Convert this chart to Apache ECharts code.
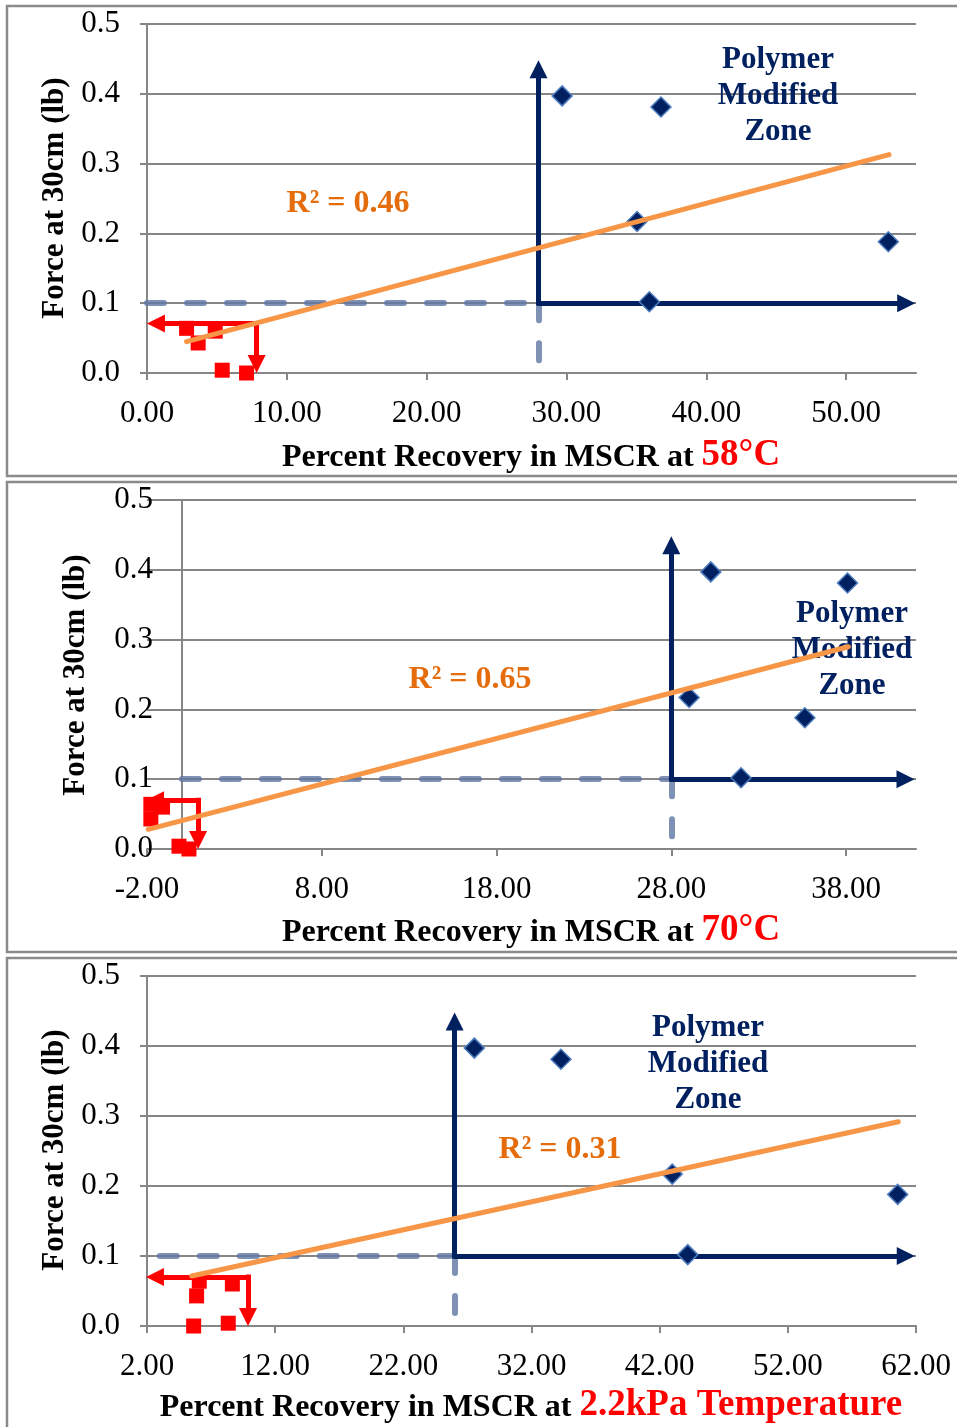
<!DOCTYPE html>
<html>
<head>
<meta charset="utf-8">
<script src="https://cdn.jsdelivr.net/npm/echarts@6/dist/echarts.min.js"></script>
<style>
  html, body { margin: 0; padding: 0; background: #ffffff; }
  #chart { width: 957px; height: 1427px; }
</style>
</head>
<body>
<div id="chart"></div>
<script>
// Force at 30 cm vs. MSCR percent recovery for three test conditions.
const panelConditions = ['58°C', '70°C', '2.2kPa Temperature'];
const xMins = [0, -2, 2];
const xMaxs = [55, 42, 62];
const xInterval = 10;
const yMin = 0;
const yMax = 0.5;
const yInterval = 0.1;

// Polymer modified binders: force (lb) and percent recovery per condition
const pmForce = [0.397, 0.381, 0.217, 0.102, 0.188];
const pmRecovery = [
  [29.69, 36.76, 35.05, 35.93, 53.02],
  [30.26, 38.08, 29.02, 31.99, 35.64],
  [27.54, 34.30, 42.98, 44.19, 60.57]
];

// Unmodified binders
const neatForce = [0.064, 0.043, 0.060, 0.004, 0.0];
const neatRecovery = [
  [2.83, 3.66, 4.88, 5.38, 7.12],
  [-1.78, -1.78, -1.11, -0.17, 0.40],
  [6.08, 5.87, 8.66, 8.34, 5.64]
];

// Linear trendlines over all binders
const trendSlope = [0.005334, 0.00653, 0.0040];
const trendIntercept = [0.0299, 0.0408, 0.0494];
const trendFrom = [2.83, -1.93, 5.49];
const trendTo = [53.07, 38.13, 60.62];
const trendR2 = ['0.46', '0.65', '0.31'];

// Zone boundaries
const zoneRecovery = [28, 28, 26];
const zoneForce = 0.1;
const zoneArrowTop = 0.435;
const zoneArrowRight = [54.3, 41.4, 61.2];
const dashStart = [0, 0, 3];
const neatCorner = [[7.84, 0.071], [0.92, 0.070], [9.88, 0.070]];
const neatArrowLeft = [0.64, -1.54, 2.62];
const neatArrowBottom = 0.013;

// Page layout (pixels)
const gridTops = [24, 500, 976];
const gridHeights = [349, 349, 350];
const frameTops = [6, 482, 958];
const frameHeights = [470, 470, 480];
const xTitleY = [455, 930, 1405];
const yTitlePos = [[55, 198], [76, 675], [55, 1150]];
const yLabelMargin = [27, -6, 27];
const zoneTextPos = [[778, 96], [852, 650], [708, 1064]];
const r2TextPos = [[348, 204], [470, 680], [560, 1150]];

const SERIF = "'Liberation Serif', 'Times New Roman', serif";
const AXIS_GRAY = '#868686';
const NAVY = '#002060';

const grids = [], xAxes = [], yAxes = [], series = [], graphics = [];

for (let i = 0; i < 3; i++) {
  grids.push({ left: 147, width: 769, top: gridTops[i], height: gridHeights[i], containLabel: false });

  xAxes.push({
    gridIndex: i, type: 'value', min: xMins[i], max: xMaxs[i], interval: xInterval,
    axisLine: { show: true, onZero: true, lineStyle: { color: AXIS_GRAY, width: 2 } },
    axisTick: { show: true, length: 7, lineStyle: { color: AXIS_GRAY, width: 2 } },
    axisLabel: {
      fontFamily: SERIF, fontSize: 31, color: '#000', margin: 25,
      showMaxLabel: i === 2,
      formatter: v => v.toFixed(2)
    },
    splitLine: { show: false }
  });

  yAxes.push({
    gridIndex: i, type: 'value', min: yMin, max: yMax, interval: yInterval,
    axisLine: { show: true, onZero: true, lineStyle: { color: AXIS_GRAY, width: 2 } },
    axisTick: { show: i !== 1, length: 7, lineStyle: { color: AXIS_GRAY, width: 2 } },
    axisLabel: {
      fontFamily: SERIF, fontSize: 31, color: '#000', margin: yLabelMargin[i],
      formatter: v => v.toFixed(1)
    },
    splitLine: { show: true, lineStyle: { color: AXIS_GRAY, width: 2 } }
  });

  const ax = { xAxisIndex: i, yAxisIndex: i, coordinateSystem: 'cartesian2d' };

  // dashed 0.1 lb / recovery threshold guides
  series.push(Object.assign({
    type: 'lines', silent: true, animation: false, symbol: 'none',
    lineStyle: { color: '#5f76a3', width: 6, type: [17, 23], cap: 'round', opacity: 0.8 },
    data: [
      { coords: [[dashStart[i], zoneForce], [zoneRecovery[i], zoneForce]] },
      { coords: [[zoneRecovery[i], zoneForce], [zoneRecovery[i], yMin]] }
    ]
  }, ax));

  // polymer modified zone arrows
  series.push(Object.assign({
    type: 'lines', silent: true, animation: false,
    symbol: ['none', 'triangle'], symbolSize: [17, 18],
    lineStyle: { color: NAVY, width: 5, opacity: 1, cap: 'round' },
    data: [
      { coords: [[zoneRecovery[i], zoneForce], [zoneRecovery[i], zoneArrowTop]] },
      { coords: [[zoneRecovery[i], zoneForce], [zoneArrowRight[i], zoneForce]] }
    ]
  }, ax));

  // polymer modified binders
  series.push({
    type: 'scatter', xAxisIndex: i, yAxisIndex: i, animation: false,
    symbol: 'diamond', symbolSize: 20,
    itemStyle: { color: NAVY, borderColor: '#4f7ec0', borderWidth: 1.5, opacity: 1 },
    data: pmRecovery[i].map((x, k) => [x, pmForce[k]])
  });

  // unmodified binders
  series.push({
    type: 'scatter', xAxisIndex: i, yAxisIndex: i, animation: false,
    symbol: 'rect', symbolSize: 15,
    itemStyle: { color: '#ff0000', opacity: 1 },
    data: neatRecovery[i].map((x, k) => [x, neatForce[k]])
  });

  // unmodified zone arrows
  series.push(Object.assign({
    type: 'lines', silent: true, animation: false,
    symbol: ['none', 'triangle'], symbolSize: [17, 18],
    lineStyle: { color: '#ff0000', width: 5, opacity: 1, cap: 'square' },
    data: [
      { coords: [neatCorner[i], [neatArrowLeft[i], neatCorner[i][1]]] },
      { coords: [neatCorner[i], [neatCorner[i][0], neatArrowBottom]] }
    ]
  }, ax));

  // linear trendline
  series.push({
    type: 'line', xAxisIndex: i, yAxisIndex: i, animation: false, silent: true,
    showSymbol: false, symbol: 'none',
    lineStyle: { color: '#f79646', width: 5, cap: 'round' },
    data: [trendFrom[i], trendTo[i]].map(x => [x, trendIntercept[i] + trendSlope[i] * x])
  });

  // panel frame
  graphics.push({
    type: 'rect', z: 0, silent: true,
    shape: { x: 7, y: frameTops[i], width: 980, height: frameHeights[i] },
    style: { fill: 'none', stroke: '#8a8a8a', lineWidth: 2.5 }
  });

  // x axis title
  graphics.push({
    type: 'text', x: 531, y: xTitleY[i], z: 5,
    style: {
      text: '{a|Percent Recovery in MSCR at }{b|' + panelConditions[i] + '}',
      align: 'center', verticalAlign: 'middle',
      rich: {
        a: { fontFamily: SERIF, fontWeight: 'bold', fontSize: 32, fill: '#000', lineHeight: 38, verticalAlign: 'bottom' },
        b: { fontFamily: SERIF, fontWeight: 'bold', fontSize: 37, fill: '#ff0000', lineHeight: 38, verticalAlign: 'bottom' }
      }
    }
  });

  // y axis title
  graphics.push({
    type: 'text', x: yTitlePos[i][0], y: yTitlePos[i][1], rotation: Math.PI / 2, z: 5,
    style: {
      text: 'Force at 30cm (lb)', fontFamily: SERIF, fontWeight: 'bold', fontSize: 31,
      fill: '#000', align: 'center', verticalAlign: 'middle'
    }
  });

  // zone label
  graphics.push({
    type: 'text', x: zoneTextPos[i][0], y: zoneTextPos[i][1], z: 1,
    style: {
      text: 'Polymer\nModified\nZone', fontFamily: SERIF, fontWeight: 'bold', fontSize: 31,
      lineHeight: 36, fill: NAVY, align: 'center', verticalAlign: 'middle'
    }
  });

  // trendline R²
  graphics.push({
    type: 'text', x: r2TextPos[i][0], y: r2TextPos[i][1], z: 1,
    style: {
      text: 'R² = ' + trendR2[i], fontFamily: SERIF, fontWeight: 'bold', fontSize: 32,
      fill: '#e46c0a', align: 'center', verticalAlign: 'middle'
    }
  });
}

const chart = echarts.init(document.getElementById('chart'), null, { renderer: 'canvas' });
chart.setOption({
  backgroundColor: '#ffffff',
  animation: false,
  grid: grids,
  xAxis: xAxes,
  yAxis: yAxes,
  series: series,
  graphic: graphics
});
</script>
</body>
</html>
